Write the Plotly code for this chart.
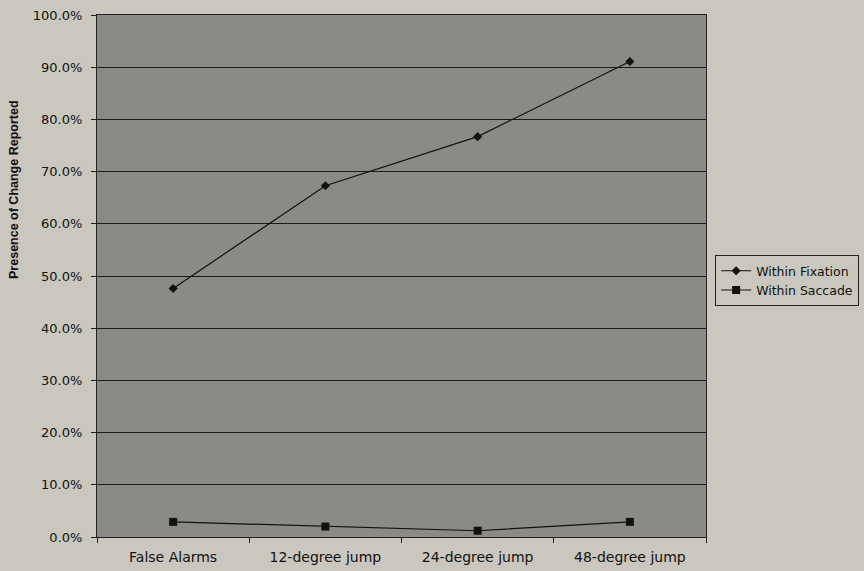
import plotly.graph_objects as go

categories = ["False Alarms", "12-degree jump", "24-degree jump", "48-degree jump"]
within_fixation = [47.6, 67.3, 76.7, 91.1]
within_saccade = [2.9, 2.0, 1.2, 2.9]
y_ticks = [0, 10, 20, 30, 40, 50, 60, 70, 80, 90, 100]
y_tick_labels = [f"{v:.1f}%" for v in y_ticks]
y_title = "Presence of Change Reported"

fig = go.Figure()
fig.add_trace(go.Scatter(
    x=categories, y=within_fixation, name="Within Fixation",
    mode="lines+markers",
    line=dict(color="#111111", width=1.2),
    marker=dict(symbol="diamond", size=7, color="#111111"),
))
fig.add_trace(go.Scatter(
    x=categories, y=within_saccade, name="Within Saccade",
    mode="lines+markers",
    line=dict(color="#111111", width=1.2),
    marker=dict(symbol="square", size=8, color="#111111"),
))

fig.add_annotation(
    text=f"<b>{y_title}</b>", textangle=-90,
    xref="paper", yref="paper", x=-0.1363, y=0.6667,
    xanchor="center", yanchor="middle", showarrow=False,
    font=dict(family="Liberation Sans, Arial, sans-serif", size=12.5, color="#111111"),
)

fig.update_layout(
    width=864, height=571,
    margin=dict(l=97, r=158, t=15, b=34, autoexpand=False),
    paper_bgcolor="#c9c7be",
    plot_bgcolor="#8b8a84",
    font=dict(family="DejaVu Sans, sans-serif", size=13, color="#111111"),
    showlegend=True,
    legend=dict(
        x=1.015, y=0.54, xanchor="left", yanchor="top",
        bgcolor="#c9c7be", bordercolor="#222222", borderwidth=1,
        font=dict(size=12.5), tracegroupgap=0, itemwidth=30,
    ),
    xaxis=dict(
        type="category", range=[-0.5, 3.5],
        tickson="boundaries", ticks="outside", ticklen=5, tickcolor="#222222",
        tickfont=dict(size=14), ticklabelstandoff=7,
        showline=True, linecolor="#222222", linewidth=1, mirror=True,
        showgrid=False, zeroline=False,
    ),
    yaxis=dict(
        range=[0, 100], tickvals=y_ticks, ticktext=y_tick_labels,
        tickfont=dict(size=13), ticklabelstandoff=6,
        ticks="outside", ticklen=5, tickcolor="#222222",
        showline=True, linecolor="#222222", linewidth=1, mirror=True,
        showgrid=True, gridcolor="#1a1a1a", gridwidth=1, zeroline=False,
    ),
)

fig.write_html("out.html")
